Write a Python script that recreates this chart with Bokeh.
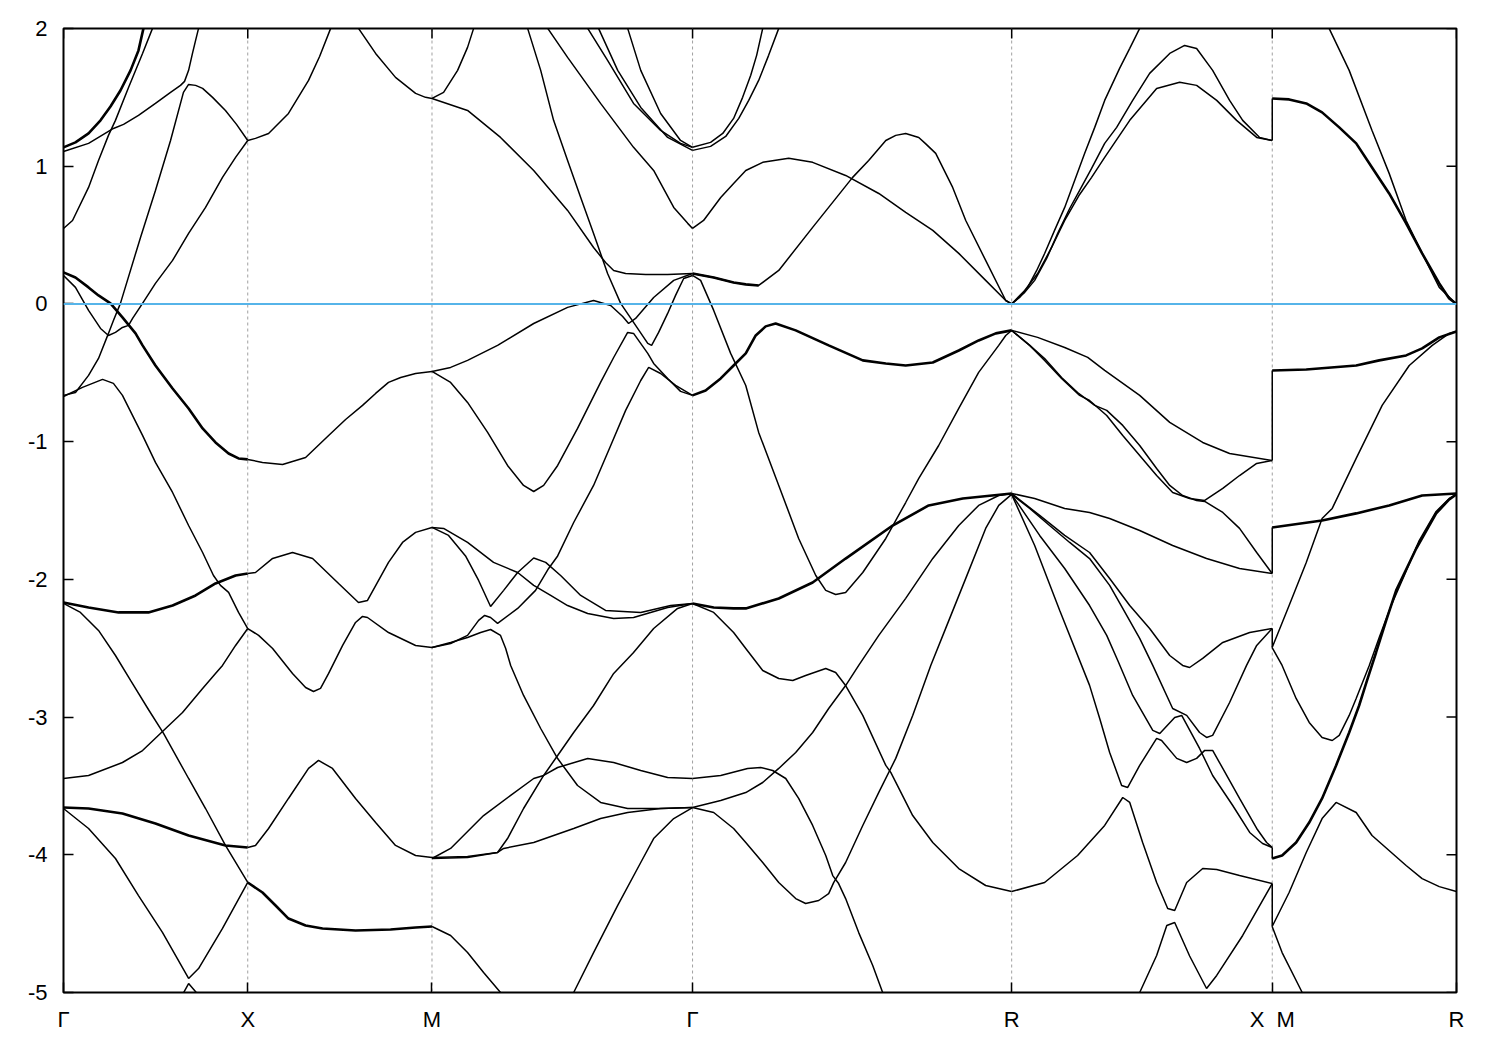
import math
from bokeh.plotting import figure
from bokeh.models import FixedTicker, Span, Range1d
from bokeh.embed import file_html
from bokeh.resources import INLINE

# ---- high-symmetry path (units of 2*pi/a) ----
k_pts = [0.0, 1.0, 2.0, 2 + math.sqrt(2), 2 + math.sqrt(2) + math.sqrt(3),
         2 + 2 * math.sqrt(2) + math.sqrt(3), 3 + 2 * math.sqrt(2) + math.sqrt(3)]
k_labels = ["\u0393", "X", "M", "\u0393", "R", "X\u00a0\u00a0M", "R"]
e_ticks = [-5, -4, -3, -2, -1, 0, 1, 2]
e_labels = ["-5", "-4", "-3", "-2", "-1", "0", "1", "2"]
e_fermi = 0.0

# ---- Gamma -> X ----
s1_A = [(0.000,1.137),(0.065,1.173),(0.136,1.238),(0.201,1.333),(0.255,1.434),(0.309,1.550),(0.364,1.696),(0.407,1.841),(0.434,2.001)]
s1_C2 = [(0.000,1.107),(0.136,1.166),(0.271,1.274),(0.326,1.304),(0.407,1.369),(0.499,1.456),(0.581,1.536),(0.635,1.587),(0.657,1.616),(0.679,1.696),(0.700,1.819),(0.717,1.914),(0.733,2.001)]
s1_C3 = [(0.000,0.548),(0.049,0.606),(0.136,0.846),(0.190,1.042),(0.244,1.224),(0.282,1.333),(0.353,1.572),(0.429,1.819),(0.483,2.001)]
s1_B1 = [(0.000,-0.664),(0.065,-0.643),(0.136,-0.519),(0.190,-0.396),(0.244,-0.214),(0.271,-0.120),(0.309,0.004),(0.418,0.483),(0.499,0.824),(0.581,1.187),(0.651,1.536),(0.679,1.594),(0.717,1.587),(0.755,1.565),(0.809,1.500),(0.879,1.405),(0.939,1.304),(1.000,1.187)]
s1_D1 = [(0.000,0.229),(0.065,0.192),(0.136,0.120),(0.190,0.062),(0.255,0.004),(0.320,-0.098),(0.391,-0.214),(0.429,-0.301),(0.499,-0.447),(0.592,-0.614),(0.679,-0.759),(0.755,-0.904),(0.825,-1.006),(0.896,-1.086),(0.950,-1.122),(1.000,-1.129)]
s1_D2 = [(0.000,0.207),(0.065,0.120),(0.136,-0.047),(0.201,-0.178),(0.244,-0.229),(0.282,-0.207),(0.320,-0.171),(0.353,-0.156),(0.375,-0.105),(0.429,0.004),(0.499,0.149),(0.592,0.316),(0.679,0.512),(0.771,0.701),(0.863,0.919),(0.934,1.064),(1.000,1.187)]
s1_E1 = [(0.000,-0.672),(0.103,-0.606),(0.212,-0.548),(0.271,-0.577),(0.320,-0.664),(0.429,-0.955),(0.499,-1.151),(0.592,-1.369),(0.679,-1.609),(0.755,-1.805),(0.814,-1.972),(0.852,-2.044),(0.896,-2.095),(0.950,-2.240),(1.000,-2.357)]
s1_F = [(0.000,-2.168),(0.136,-2.204),(0.299,-2.240),(0.461,-2.240),(0.592,-2.190),(0.717,-2.117),(0.825,-2.030),(0.934,-1.972),(1.000,-1.957)]
s1_G = [(0.000,-2.175),(0.092,-2.240),(0.190,-2.371),(0.282,-2.553),(0.364,-2.734),(0.461,-2.945),(0.543,-3.119),(0.679,-3.446),(0.771,-3.664),(0.879,-3.932),(1.000,-4.201)]
s1_J = [(0.000,-3.446),(0.136,-3.424),(0.320,-3.330),(0.429,-3.243),(0.543,-3.097),(0.646,-2.967),(0.755,-2.792),(0.825,-2.683),(0.863,-2.625),(0.934,-2.480),(1.000,-2.357)]
s1_H = [(0.000,-3.657),(0.136,-3.664),(0.320,-3.700),(0.499,-3.773),(0.679,-3.860),(0.879,-3.932),(1.000,-3.947)]
s1_I = [(0.000,-3.664),(0.136,-3.809),(0.282,-4.027),(0.407,-4.296),(0.537,-4.564),(0.679,-4.898),(0.733,-4.826),(0.863,-4.535),(1.000,-4.201)]
s1_K = [(0.640,-5.030),(0.679,-4.935),(0.740,-5.030)]

# ---- X -> M ----
s2_a = [(1.000,1.187),(1.042,1.202),(1.113,1.238),(1.221,1.383),(1.330,1.623),(1.390,1.797),(1.450,2.001)]
s2_b = [(1.601,2.001),(1.694,1.819),(1.802,1.645),(1.911,1.529),(1.965,1.500),(2.000,1.492)]
s2_D = [(1.000,-1.129),(1.080,-1.151),(1.189,-1.166),(1.314,-1.115),(1.439,-0.955),(1.531,-0.839),(1.623,-0.737),(1.694,-0.650),(1.764,-0.570),(1.830,-0.534),(1.911,-0.505),(2.000,-0.490)]
s2_F = [(1.000,-1.957),(1.042,-1.950),(1.135,-1.848),(1.243,-1.805),(1.352,-1.848),(1.493,-2.030),(1.601,-2.168),(1.650,-2.153),(1.764,-1.877),(1.840,-1.732),(1.911,-1.659),(2.000,-1.623)]
s2_E = [(1.000,-2.357),(1.059,-2.407),(1.135,-2.502),(1.243,-2.683),(1.314,-2.785),(1.357,-2.814),(1.395,-2.792),(1.439,-2.683),(1.515,-2.480),(1.585,-2.313),(1.623,-2.269),(1.650,-2.277),(1.764,-2.386),(1.911,-2.480),(2.000,-2.495)]
s2_H = [(1.000,-3.947),(1.042,-3.932),(1.113,-3.809),(1.221,-3.591),(1.330,-3.373),(1.384,-3.315),(1.460,-3.373),(1.585,-3.591),(1.694,-3.765),(1.802,-3.932),(1.911,-4.005),(2.000,-4.020)]
s2_I = [(1.000,-4.201),(1.080,-4.274),(1.151,-4.368),(1.221,-4.463),(1.314,-4.513),(1.406,-4.535),(1.585,-4.550),(1.775,-4.542),(1.911,-4.528),(2.000,-4.521)]

# ---- M -> Gamma ----
s3_a = [(2.000,1.492),(2.063,1.536),(2.139,1.696),(2.193,1.863),(2.226,2.001)]
s3_b = [(2.000,1.492),(2.193,1.405),(2.372,1.209),(2.552,0.969),(2.736,0.679),(2.877,0.410),(2.942,0.301),(2.986,0.243),(3.051,0.221),(3.160,0.214),(3.279,0.214),(3.414,0.221)]
s3_P = [(2.519,2.001),(2.590,1.696),(2.660,1.333),(2.736,1.042),(2.807,0.773),(2.877,0.512),(2.953,0.221),(3.024,0.004),(3.094,-0.134),(3.171,-0.287),(3.192,-0.301),(3.230,-0.207),(3.279,-0.069),(3.322,0.062),(3.366,0.185),(3.414,0.207)]
s3_Q = [(2.000,-0.490),(2.101,-0.461),(2.193,-0.410),(2.356,-0.301),(2.552,-0.142),(2.736,-0.025),(2.877,0.025),(2.970,-0.011),(3.035,-0.091),(3.067,-0.142),(3.105,-0.105),(3.203,0.047),(3.312,0.171),(3.414,0.221)]
s3_R = [(2.000,-0.490),(2.101,-0.570),(2.193,-0.715),(2.302,-0.933),(2.410,-1.173),(2.497,-1.318),(2.552,-1.362),(2.606,-1.318),(2.682,-1.173),(2.790,-0.904),(2.915,-0.570),(2.986,-0.389),(3.062,-0.207),(3.094,-0.214),(3.171,-0.359),(3.203,-0.432),(3.279,-0.541),(3.349,-0.635),(3.414,-0.664)]
s3_L1 = [(2.000,-1.623),(2.063,-1.630),(2.193,-1.732),(2.334,-1.877),(2.465,-1.950),(2.552,-2.044),(2.644,-2.117),(2.736,-2.190),(2.845,-2.248),(2.986,-2.284),(3.094,-2.277),(3.279,-2.204),(3.414,-2.175)]
s3_L2 = [(2.000,-1.623),(2.090,-1.681),(2.182,-1.830),(2.253,-2.008),(2.318,-2.197),(2.389,-2.080),(2.465,-1.950),(2.552,-1.845),(2.617,-1.877),(2.698,-1.972),(2.807,-2.117),(2.942,-2.226),(3.133,-2.240),(3.295,-2.190),(3.414,-2.175)]
s3_L3 = [(2.000,-2.495),(2.101,-2.466),(2.193,-2.407),(2.253,-2.298),(2.286,-2.262),(2.318,-2.277),(2.356,-2.320),(2.465,-2.211),(2.562,-2.080),(2.633,-1.921),(2.682,-1.830),(2.769,-1.587),(2.877,-1.318),(2.970,-1.028),(3.051,-0.773),(3.133,-0.556),(3.176,-0.461),(3.241,-0.505),(3.322,-0.592),(3.414,-0.664)]
s3_L4 = [(2.000,-2.495),(2.101,-2.458),(2.193,-2.422),(2.264,-2.386),(2.318,-2.364),(2.372,-2.407),(2.400,-2.502),(2.427,-2.625),(2.497,-2.843),(2.590,-3.083),(2.682,-3.301),(2.790,-3.497),(2.915,-3.620),(3.062,-3.664),(3.241,-3.664),(3.414,-3.657)]
s3_L5 = [(2.000,-4.027),(2.101,-3.954),(2.280,-3.715),(2.427,-3.569),(2.552,-3.446),(2.606,-3.424),(2.682,-3.366),(2.845,-3.301),(2.986,-3.330),(3.133,-3.388),(3.279,-3.439),(3.414,-3.446)]
s3_L6 = [(2.000,-4.027),(2.193,-4.020),(2.356,-3.983),(2.389,-3.954),(2.552,-3.911),(2.769,-3.809),(2.915,-3.737),(3.062,-3.693),(3.241,-3.664),(3.414,-3.657)]
s3_L7 = [(2.000,-4.020),(2.193,-4.013),(2.356,-3.983),(2.410,-3.882),(2.497,-3.664),(2.606,-3.424),(2.682,-3.279),(2.769,-3.112),(2.877,-2.916),(2.986,-2.683),(3.094,-2.531),(3.203,-2.357),(3.333,-2.211),(3.414,-2.175)]
s3_L8 = [(2.000,-4.521),(2.101,-4.586),(2.193,-4.710),(2.280,-4.855),(2.372,-5.000),(2.405,-5.058)]
s3_L9 = [(2.747,-5.058),(2.769,-5.000),(2.877,-4.710),(3.008,-4.368),(3.133,-4.056),(3.203,-3.882),(3.312,-3.737),(3.414,-3.657)]
s3_pa = [(2.845,2.001),(2.953,1.768),(3.094,1.456),(3.241,1.260),(3.349,1.166),(3.414,1.137)]
s3_pb = [(2.904,2.001),(3.008,1.696),(3.133,1.427),(3.279,1.209),(3.414,1.115)]
s3_pc = [(3.062,2.001),(3.133,1.696),(3.241,1.383),(3.349,1.187),(3.414,1.137)]
s3_053 = [(2.628,2.001),(2.736,1.790),(2.915,1.456),(3.094,1.137),(3.203,0.969),(3.312,0.701),(3.388,0.585),(3.414,0.548)]

# ---- Gamma -> R ----
s4_R1 = [(3.414,1.137),(3.512,1.173),(3.578,1.238),(3.637,1.347),(3.686,1.500),(3.730,1.660),(3.762,1.805),(3.795,2.001)]
s4_R2 = [(3.414,1.115),(3.512,1.144),(3.594,1.216),(3.665,1.347),(3.719,1.478),(3.773,1.623),(3.827,1.805),(3.882,2.001)]
s4_053 = [(3.414,0.548),(3.474,0.606),(3.567,0.773),(3.637,0.875),(3.703,0.969),(3.795,1.028),(3.936,1.057),(4.066,1.028),(4.245,0.933),(4.425,0.802),(4.571,0.664),(4.718,0.534),(4.859,0.367),(5.005,0.171),(5.114,0.025),(5.146,0.000)]
s4_022 = [(3.414,0.221),(3.529,0.192),(3.637,0.156),(3.703,0.142),(3.773,0.134),(3.882,0.243),(4.066,0.556),(4.283,0.919),(4.370,1.042),(4.463,1.187),(4.517,1.224),(4.571,1.238),(4.642,1.209),(4.680,1.162),(4.734,1.093),(4.826,0.846),(4.897,0.606),(5.005,0.316),(5.114,0.025),(5.146,0.000)]
s4_V = [(3.414,0.207),(3.458,0.171),(3.529,-0.047),(3.621,-0.359),(3.703,-0.592),(3.773,-0.933),(3.882,-1.318),(3.990,-1.703),(4.083,-1.972),(4.137,-2.080),(4.191,-2.110),(4.245,-2.095),(4.338,-1.950),(4.463,-1.703),(4.571,-1.442),(4.642,-1.267),(4.750,-1.028),(4.859,-0.759),(4.967,-0.497),(5.076,-0.301),(5.114,-0.229),(5.146,-0.193)]
s4_066 = [(3.414,-0.664),(3.485,-0.628),(3.567,-0.541),(3.637,-0.447),(3.703,-0.359),(3.757,-0.229),(3.811,-0.163),(3.865,-0.142),(3.974,-0.192),(4.153,-0.301),(4.338,-0.410),(4.463,-0.432),(4.571,-0.447),(4.718,-0.425),(4.859,-0.338),(4.967,-0.265),(5.060,-0.214),(5.146,-0.192)]
s4_217 = [(3.414,-2.175),(3.529,-2.204),(3.637,-2.211),(3.703,-2.211),(3.882,-2.139),(4.066,-2.023),(4.245,-1.849),(4.500,-1.609),(4.696,-1.463),(4.881,-1.413),(5.146,-1.376)]
s4_272 = [(3.414,-2.175),(3.529,-2.240),(3.637,-2.386),(3.703,-2.502),(3.795,-2.662),(3.882,-2.720),(3.958,-2.734),(4.028,-2.698),(4.137,-2.647),(4.191,-2.676),(4.245,-2.771),(4.338,-2.988),(4.463,-3.351),(4.490,-3.402),(4.609,-3.715),(4.718,-3.911),(4.859,-4.100),(5.005,-4.223),(5.146,-4.267)]
s4_345 = [(3.414,-3.446),(3.567,-3.424),(3.713,-3.373),(3.784,-3.366),(3.849,-3.388),(3.920,-3.446),(3.990,-3.591),(4.066,-3.787),(4.137,-4.005),(4.175,-4.151),(4.207,-4.209),(4.245,-4.318),(4.316,-4.565),(4.392,-4.804),(4.446,-5.000),(4.457,-5.058)]
s4_436 = [(3.414,-3.657),(3.529,-3.693),(3.637,-3.809),(3.703,-3.911),(3.795,-4.056),(3.882,-4.201),(3.974,-4.318),(4.028,-4.354),(4.099,-4.332),(4.153,-4.282),(4.180,-4.202),(4.245,-4.056),(4.338,-3.787),(4.425,-3.547),(4.517,-3.300),(4.609,-2.988),(4.707,-2.625),(4.788,-2.356),(4.897,-1.993),(5.005,-1.630),(5.076,-1.463),(5.146,-1.383)]
s4_365 = [(3.414,-3.657),(3.567,-3.606),(3.703,-3.548),(3.795,-3.475),(3.882,-3.373),(3.974,-3.257),(4.066,-3.112),(4.153,-2.938),(4.245,-2.771),(4.316,-2.625),(4.425,-2.407),(4.571,-2.138),(4.718,-1.848),(4.859,-1.609),(4.967,-1.463),(5.076,-1.391),(5.146,-1.376)]

# ---- R -> X ----
s5_A = [(5.146,0.000),(5.189,0.047),(5.233,0.120),(5.282,0.243),(5.325,0.366),(5.379,0.534),(5.434,0.701),(5.488,0.897),(5.542,1.093),(5.597,1.282),(5.651,1.478),(5.732,1.710),(5.787,1.856),(5.841,2.001)]
s5_B = [(5.146,0.000),(5.217,0.084),(5.271,0.171),(5.336,0.330),(5.396,0.512),(5.461,0.693),(5.515,0.824),(5.580,0.984),(5.651,1.166),(5.716,1.282),(5.803,1.478),(5.895,1.674),(6.004,1.819),(6.085,1.877),(6.150,1.855),(6.237,1.696),(6.329,1.478),(6.400,1.333),(6.492,1.209),(6.560,1.187)]
s5_C = [(5.146,0.000),(5.217,0.098),(5.287,0.221),(5.363,0.410),(5.434,0.606),(5.515,0.795),(5.580,0.919),(5.651,1.064),(5.787,1.333),(5.933,1.565),(6.058,1.609),(6.150,1.587),(6.259,1.478),(6.367,1.333),(6.476,1.209),(6.560,1.187)]
s5_R1 = [(5.146,-0.192),(5.287,-0.243),(5.434,-0.316),(5.559,-0.388),(5.651,-0.483),(5.841,-0.664),(6.004,-0.860),(6.183,-1.006),(6.329,-1.086),(6.560,-1.137)]
s5_R2 = [(5.146,-0.192),(5.244,-0.301),(5.325,-0.396),(5.417,-0.534),(5.504,-0.643),(5.597,-0.737),(5.662,-0.773),(5.749,-0.882),(5.841,-1.028),(5.933,-1.195),(6.004,-1.318),(6.074,-1.391),(6.150,-1.427),(6.194,-1.434),(6.292,-1.514),(6.383,-1.630),(6.476,-1.805),(6.560,-1.957)]
s5_R3 = [(5.146,-0.192),(5.244,-0.301),(5.325,-0.410),(5.417,-0.541),(5.515,-0.664),(5.569,-0.701),(5.662,-0.810),(5.749,-0.955),(5.841,-1.100),(5.933,-1.246),(6.020,-1.369),(6.112,-1.413),(6.194,-1.427),(6.292,-1.340),(6.383,-1.246),(6.476,-1.158),(6.560,-1.137)]
s5_196 = [(5.146,-1.376),(5.271,-1.413),(5.434,-1.485),(5.569,-1.514),(5.678,-1.558),(5.841,-1.645),(6.020,-1.754),(6.204,-1.849),(6.383,-1.921),(6.560,-1.957)]
s5_263 = [(5.146,-1.376),(5.298,-1.536),(5.434,-1.681),(5.569,-1.805),(5.678,-1.994),(5.787,-2.190),(5.895,-2.357),(6.004,-2.553),(6.074,-2.625),(6.112,-2.640),(6.183,-2.574),(6.292,-2.458),(6.438,-2.386),(6.560,-2.357)]
s5_T1 = [(5.146,-1.383),(5.244,-1.485),(5.352,-1.609),(5.461,-1.732),(5.569,-1.849),(5.678,-2.044),(5.749,-2.211),(5.841,-2.429),(5.912,-2.625),(6.020,-2.938),(6.096,-2.988),(6.166,-3.112),(6.204,-3.148),(6.237,-3.133),(6.329,-2.894),(6.421,-2.625),(6.476,-2.480),(6.560,-2.357)]
s5_T2 = [(5.146,-1.383),(5.298,-1.681),(5.434,-1.921),(5.569,-2.190),(5.662,-2.407),(5.722,-2.589),(5.803,-2.843),(5.912,-3.097),(5.950,-3.119),(6.031,-3.003),(6.069,-2.988),(6.166,-3.228),(6.237,-3.424),(6.346,-3.642),(6.438,-3.838),(6.508,-3.918),(6.560,-3.947)]
s5_T3 = [(5.146,-1.383),(5.271,-1.754),(5.407,-2.226),(5.569,-2.770),(5.624,-3.010),(5.678,-3.257),(5.743,-3.497),(5.776,-3.511),(5.841,-3.351),(5.933,-3.155),(5.960,-3.170),(6.042,-3.300),(6.096,-3.330),(6.150,-3.300),(6.194,-3.242),(6.237,-3.242),(6.292,-3.373),(6.383,-3.591),(6.476,-3.809),(6.530,-3.911),(6.560,-3.947)]
s5_T4 = [(5.146,-4.267),(5.325,-4.201),(5.504,-4.005),(5.651,-3.787),(5.749,-3.584),(5.787,-3.620),(5.857,-3.911),(5.933,-4.201),(5.993,-4.390),(6.031,-4.405),(6.096,-4.201),(6.183,-4.100),(6.259,-4.107),(6.383,-4.151),(6.560,-4.209)]
s5_T5 = [(5.830,-5.058),(5.841,-5.000),(5.933,-4.731),(5.988,-4.513),(6.031,-4.492),(6.112,-4.735),(6.204,-4.971),(6.259,-4.876),(6.400,-4.586),(6.560,-4.209)]

# ---- M -> R ----
s6_149 = [(6.560,1.492),(6.652,1.485),(6.745,1.456),(6.831,1.391),(6.924,1.282),(7.016,1.166),(7.102,0.991),(7.195,0.802),(7.287,0.585),(7.374,0.367),(7.467,0.149),(7.521,0.040),(7.560,0.000)]
s6_top = [(6.869,2.001),(6.978,1.696),(7.102,1.260),(7.195,0.948),(7.287,0.606),(7.374,0.367),(7.467,0.120),(7.560,0.000)]
s6_049 = [(6.560,-0.483),(6.745,-0.476),(7.016,-0.447),(7.141,-0.410),(7.287,-0.374),(7.374,-0.323),(7.467,-0.243),(7.560,-0.200)]
s6_249 = [(6.560,-2.495),(6.652,-2.190),(6.745,-1.877),(6.831,-1.558),(6.886,-1.485),(7.016,-1.122),(7.157,-0.737),(7.304,-0.447),(7.429,-0.301),(7.521,-0.214),(7.560,-0.200)]
s6_162 = [(6.560,-1.623),(6.831,-1.572),(7.016,-1.521),(7.195,-1.463),(7.374,-1.391),(7.560,-1.376)]
s6_402 = [(6.560,-4.027),(6.614,-4.005),(6.690,-3.911),(6.761,-3.766),(6.831,-3.591),(6.907,-3.351),(6.978,-3.112),(7.032,-2.916),(7.075,-2.734),(7.124,-2.531),(7.179,-2.298),(7.233,-2.080),(7.342,-1.776),(7.450,-1.521),(7.521,-1.420),(7.560,-1.383)]
s6_f = [(6.560,-2.495),(6.614,-2.625),(6.690,-2.865),(6.761,-3.039),(6.831,-3.148),(6.886,-3.170),(6.924,-3.133),(6.978,-2.988),(7.016,-2.865),(7.087,-2.625),(7.141,-2.422),(7.206,-2.190),(7.277,-1.972),(7.358,-1.718),(7.450,-1.507),(7.521,-1.413),(7.560,-1.383)]
s6_d = [(6.560,-4.521),(6.652,-4.274),(6.745,-3.983),(6.831,-3.737),(6.907,-3.620),(7.016,-3.693),(7.102,-3.860),(7.287,-4.078),(7.374,-4.173),(7.467,-4.231),(7.560,-4.267)]
s6_e = [(6.560,-4.521),(6.614,-4.710),(6.723,-5.000),(6.739,-5.058)]

# energies at X (end of R-X) and at M (start of M-R); both sit at the same path point
xm_E_X = [1.187, -1.137, -1.957, -2.357, -3.947, -4.209]
xm_E_M = [1.492, -0.483, -1.623, -2.495, -4.027, -4.521]

thin_bands = [s1_C2, s1_C3, s1_B1, s1_D2, s1_E1, s1_G, s1_J, s1_I, s1_K,
              s2_a, s2_b, s2_D, s2_F, s2_E, s2_H,
              s3_a, s3_b, s3_P, s3_Q, s3_R, s3_L1, s3_L2, s3_L3, s3_L4, s3_L5, s3_L6,
              s3_L7, s3_L8, s3_L9, s3_pa, s3_pb, s3_pc, s3_053,
              s4_R1, s4_R2, s4_053, s4_022, s4_V, s4_272, s4_345, s4_436, s4_365,
              s5_A, s5_B, s5_C, s5_R1, s5_R2, s5_R3, s5_196, s5_263, s5_T1, s5_T2,
              s5_T3, s5_T4, s5_T5,
              s6_top, s6_249, s6_f, s6_d, s6_e]
thick_bands = [s1_A, s1_D1, s1_F, s1_H, s2_I, s4_022[:5], s4_066, s4_217,
               s6_149, s6_049, s6_162, s6_402]


def to_xy(bands):
    return ([[pt[0] for pt in b] for b in bands], [[pt[1] for pt in b] for b in bands])


FONT = "Liberation Sans"
k_min, k_max = k_pts[0], k_pts[-1]
e_min, e_max = e_ticks[0], e_ticks[-1]

p = figure(width=1484, height=1034,
           x_range=Range1d(k_min, k_max), y_range=Range1d(e_min, e_max),
           output_backend="svg", toolbar_location=None,
           min_border_left=63, min_border_right=28, min_border_top=28, min_border_bottom=41)
p.xgrid.visible = False
p.ygrid.visible = False
p.outline_line_color = "black"
p.outline_line_width = 2
p.background_fill_color = "white"
p.border_fill_color = "white"

xa = p.xaxis[0]
xa.ticker = FixedTicker(ticks=k_pts)
xa.major_label_overrides = {k: lab for k, lab in zip(k_pts, k_labels)}
ya = p.yaxis[0]
ya.ticker = FixedTicker(ticks=e_ticks)
ya.major_label_overrides = {e: lab for e, lab in zip(e_ticks, e_labels)}
for ax in (xa, ya):
    ax.axis_line_color = None
    ax.major_tick_in = 10
    ax.major_tick_out = 0
    ax.major_tick_line_width = 1.5
    ax.major_tick_line_color = "black"
    ax.minor_tick_line_color = None
    ax.major_label_text_font = FONT
    ax.major_label_text_font_size = "22px"
    ax.major_label_text_color = "black"
xa.major_label_standoff = 14
ya.major_label_standoff = 16

# mirrored inward ticks on the top and right edges
p.ray(x=k_pts, y=[e_max] * len(k_pts), length=10, length_units="screen",
      angle=-math.pi / 2, line_color="black", line_width=1.5)
p.ray(x=[k_max] * len(e_ticks), y=e_ticks, length=10, length_units="screen",
      angle=math.pi, line_color="black", line_width=1.5)

for k in k_pts[1:-1]:
    p.add_layout(Span(location=k, dimension="height", line_color="#a0a0a0",
                      line_width=1, line_dash="3 3", level="underlay"))

xs, ys = to_xy(thin_bands)
p.multi_line(xs=xs, ys=ys, line_color="black", line_width=1.5)
xs, ys = to_xy(thick_bands)
p.multi_line(xs=xs, ys=ys, line_color="black", line_width=2.6)
jx = [[k_pts[5], k_pts[5]] for _ in xm_E_X]
jy = [[a, b] for a, b in zip(xm_E_X, xm_E_M)]
p.multi_line(xs=jx, ys=jy, line_color="black", line_width=1.5)

p.add_layout(Span(location=e_fermi, dimension="width", line_color="#56b4e9", line_width=2))

open("out.html", "w").write(file_html(p, INLINE))
